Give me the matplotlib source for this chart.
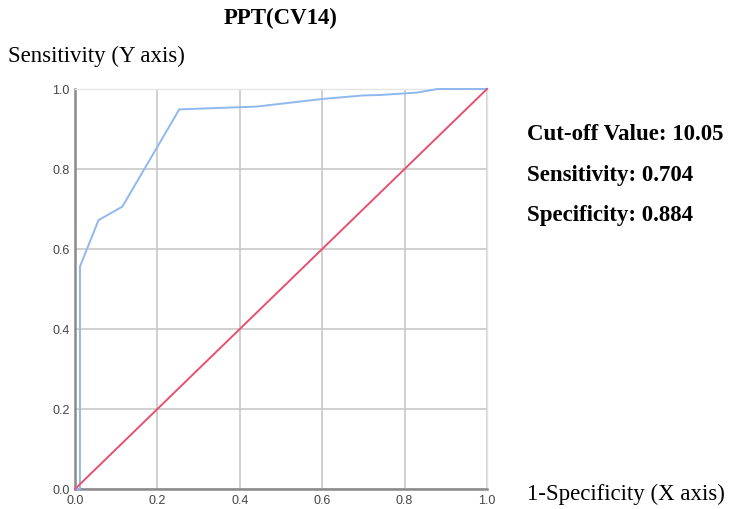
import matplotlib
matplotlib.use("Agg")
import matplotlib.pyplot as plt

fpr = [0.0, 0.012, 0.012, 0.057, 0.115, 0.253, 0.44, 0.60, 0.70, 0.74, 0.83, 0.88, 1.0]
tpr = [0.0, 0.0, 0.556, 0.672, 0.706, 0.949, 0.956, 0.975, 0.984, 0.985, 0.991, 1.0, 1.0]
ref = [0.0, 1.0]
ticks = [0.0, 0.2, 0.4, 0.6, 0.8, 1.0]
tick_labels = ["0.0", "0.2", "0.4", "0.6", "0.8", "1.0"]
title = "PPT(CV14)"
ylab = "Sensitivity (Y axis)"
xlab = "1-Specificity (X axis)"
stats = ["Cut-off Value: 10.05", "Sensitivity: 0.704", "Specificity: 0.884"]

fig = plt.figure(figsize=(7.30, 5.09), dpi=100)
ax = fig.add_axes([75/730, 20/509, 412/730, 400/509])
ax.plot(fpr, tpr, color="#8fb8ee", lw=1.4, zorder=3, clip_on=False)
ax.plot(ref, ref, color="#e8506f", lw=1.4, zorder=3, clip_on=False)
ax.set_xlim(0, 1)
ax.set_ylim(0, 1)
ax.set_xticks(ticks)
ax.set_yticks(ticks)
ax.set_xticklabels(tick_labels, family="Liberation Sans", fontsize=9, color="#444444")
ax.set_yticklabels(tick_labels, family="Liberation Sans", fontsize=9, color="#444444")
ax.tick_params(length=0)
ax.tick_params(axis="x", pad=4)
ax.tick_params(axis="y", pad=4)
ax.grid(True, color="#c8c8c8", lw=1.2)
ax.set_axisbelow(True)
for s in ["top", "right"]:
    ax.spines[s].set_color("#e4e4e4")
    ax.spines[s].set_linewidth(1.0)
for s in ["left", "bottom"]:
    ax.spines[s].set_color("#8a8a8a")
    ax.spines[s].set_linewidth(1.8)

fig.text(281/730, 1 - 18/509, title, family="Liberation Serif", fontweight="bold",
         fontsize=16.5, ha="center", va="center")
fig.text(8/730, 1 - 56/509, ylab, family="Liberation Serif", fontsize=16.5,
         ha="left", va="center")
fig.text(527/730, 1 - 494/509, xlab, family="Liberation Serif", fontsize=16.5,
         ha="left", va="center")
for i, s in enumerate(stats):
    fig.text(527/730, 1 - (134 + 41*i)/509, s, family="Liberation Serif",
             fontweight="bold", fontsize=16.5, ha="left", va="center")

fig.savefig("out.png", dpi=100, facecolor="white")
